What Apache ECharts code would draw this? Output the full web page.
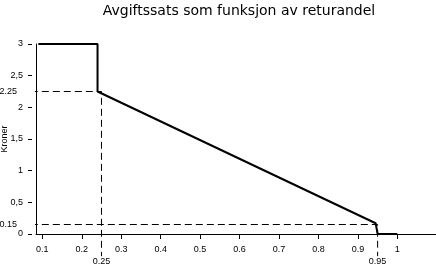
<!DOCTYPE html>
<html>
<head>
<meta charset="utf-8">
<script src="https://cdn.jsdelivr.net/npm/echarts@6/dist/echarts.min.js"></script>
<style>html,body{margin:0;padding:0;background:#fff}#c{width:436px;height:267px}</style>
</head>
<body>
<div id="c"></div>
<script>
const titleText = 'Avgiftssats som funksjon av returandel';
const yName = 'Kroner';
const xTicks = [0.1, 0.2, 0.3, 0.4, 0.5, 0.6, 0.7, 0.8, 0.9, 1];
const yTicks = [0, 0.5, 1, 1.5, 2, 2.5, 3];
const xMarks = [0.25, 0.95];
const yMarks = [2.25, 0.15];
const curveX = [0.09, 0.24, 0.24, 0.945, 0.95, 1.0];
const curveY = [3, 3, 2.25, 0.17, 0, 0];

const X_MIN = 0.084, X_MAX = 1.098, Y_MIN = 0, Y_MAX = 3;
const FONT = 'DejaVu Sans';
const LFONT = 'Liberation Sans';
const lbl = {color: '#000', fontFamily: LFONT, fontSize: 9};
const guideStart = 0.043, guideEnd = -0.35;

const chart = echarts.init(document.getElementById('c'), null, {renderer: 'canvas'});
const baseX = {type: 'value', min: X_MIN, max: X_MAX, gridIndex: 0, position: 'bottom', splitLine: {show: false}};
const baseY = {type: 'value', min: Y_MIN, max: Y_MAX, gridIndex: 0, position: 'left', splitLine: {show: false}};

const series = [{
  type: 'line',
  data: curveX.map((x, i) => [x, curveY[i]]),
  symbol: 'none', clip: false, silent: true,
  lineStyle: {color: '#000', width: 2}
}];
xMarks.forEach((x, i) => {
  series.push({
    type: 'line',
    data: [[guideStart, yMarks[i]], [x, yMarks[i]], [x, guideEnd]],
    symbol: 'none', clip: false, silent: true,
    lineStyle: {color: '#000', width: 1, type: [7, 4]}
  });
});

chart.setOption({
  animation: false,
  title: {
    text: titleText, left: 234, top: -1, textAlign: 'center',
    textStyle: {fontFamily: FONT, fontSize: 14, fontWeight: 'normal', color: '#000'}
  },
  grid: {left: 36, right: 0, top: 44, bottom: 33, containLabel: false, outerBoundsMode: 'none'},
  xAxis: [
    Object.assign({}, baseX, {
      axisLine: {show: true, lineStyle: {color: '#000', width: 1}},
      axisTick: {show: false}, axisLabel: {show: false}
    }),
    Object.assign({}, baseX, {
      offset: 2,
      axisLine: {show: false},
      axisTick: {show: true, length: 5, customValues: xTicks, lineStyle: {color: '#000'}},
      axisLabel: Object.assign({customValues: xTicks, margin: 9, formatter: v => String(v)}, lbl)
    }),
    Object.assign({}, baseX, {
      axisLine: {show: false}, axisTick: {show: false},
      axisLabel: Object.assign({customValues: xMarks, margin: 23, formatter: v => String(v)}, lbl)
    })
  ],
  yAxis: [
    Object.assign({}, baseY, {
      axisLine: {show: true, lineStyle: {color: '#000', width: 1}},
      axisTick: {show: false}, axisLabel: {show: false},
      name: yName, nameLocation: 'middle', nameGap: 27, nameRotate: 90,
      nameTextStyle: {color: '#000', fontFamily: LFONT, fontSize: 9}
    }),
    Object.assign({}, baseY, {
      offset: 4,
      axisLine: {show: false},
      axisTick: {show: true, length: 4, customValues: yTicks, lineStyle: {color: '#000'}},
      axisLabel: Object.assign({customValues: yTicks, margin: 9, formatter: v => String(v).replace('.', ',')}, lbl)
    }),
    Object.assign({}, baseY, {
      axisLine: {show: false}, axisTick: {show: false},
      axisLabel: Object.assign({customValues: yMarks, margin: 19, formatter: v => String(v)}, lbl)
    })
  ],
  series: series
});
</script>
</body>
</html>
